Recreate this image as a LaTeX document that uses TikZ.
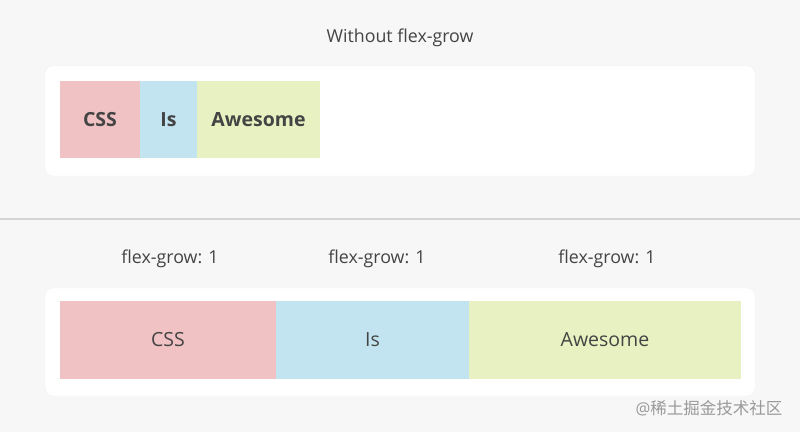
\documentclass[tikz,border=0pt]{standalone}
\usepackage{fontspec}
\setmainfont{Open Sans}
\newfontfamily\cjkfont{Noto Sans CJK SC}
\definecolor{pagebg}{HTML}{F7F7F7}
\definecolor{cssred}{HTML}{F0C2C3}
\definecolor{isblue}{HTML}{C2E4F0}
\definecolor{awgreen}{HTML}{E8F1C1}
\definecolor{inkgray}{HTML}{444444}
\tikzset{
  card/.style={fill=white, draw=black!5, rounded corners=8pt},
  cell/.style={inner sep=0pt, text=inkgray, font=\fontsize{19.5}{23}\selectfont},
  fatcell/.style={cell, font=\fontsize{19.5}{23}\selectfont\bfseries},
  caption/.style={text=inkgray, font=\fontsize{17.8}{21}\selectfont}
}

\begin{document}
\begin{tikzpicture}[x=1pt,y=-1pt]
\fill[pagebg] (0,0) rectangle (800,432);
\useasboundingbox (0,0) rectangle (800,432);

% sans flex-grow
\node[caption] (titletop) at (400,38) {Without flex-grow};
\draw[card] (45,66) rectangle (755,176);
\node[fatcell, fill=cssred, minimum width=80pt, minimum height=77pt] (topcss) at (100,119.5) {CSS};
\node[fatcell, fill=isblue, minimum width=57pt, minimum height=77pt] (topis) at (168.5,119.5) {Is};
\node[fatcell, fill=awgreen, minimum width=123pt, minimum height=77pt] (topaw) at (258.5,119.5) {Awesome};

% separateur
\draw[black!17, line width=1.2pt] (0,219) -- (800,219);

% avec flex-grow
\node[caption] (growa) at (170,259) {flex-grow: 1};
\node[caption] (growb) at (377,259) {flex-grow: 1};
\node[caption] (growc) at (607,259) {flex-grow: 1};
\draw[card] (45,288) rectangle (755,396);
\node[cell, fill=cssred, minimum width=216pt, minimum height=78pt] (botcss) at (168,340) {CSS};
\node[cell, fill=isblue, minimum width=193pt, minimum height=78pt] (botis) at (372.5,340) {Is};
\node[cell, fill=awgreen, minimum width=272pt, minimum height=78pt] (botaw) at (605,340) {Awesome};

\node[text=black!40, font=\fontsize{16.5}{19}\selectfont] (mark) at (709,408) {@\cjkfont 稀土掘金技术社区};
\end{tikzpicture}
\end{document}
